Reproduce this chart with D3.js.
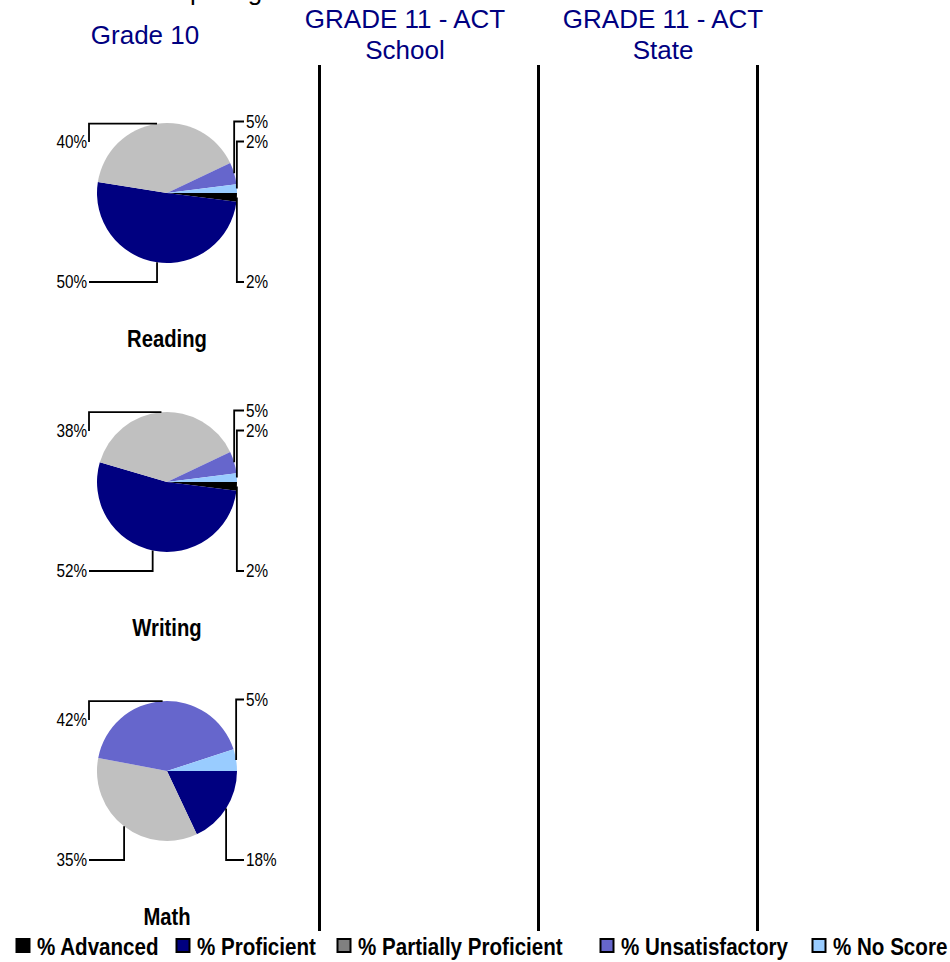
<!DOCTYPE html>
<html>
<head>
<meta charset="utf-8">
<script src="https://cdn.jsdelivr.net/npm/d3@7/dist/d3.min.js"></script>
<style>
  html, body { margin: 0; padding: 0; background: #ffffff; }
  svg { display: block; }
</style>
</head>
<body>
<svg id="chart" width="950" height="962"></svg>
<script>
// ---------- data ----------
const subjects = ["Reading", "Writing", "Math"];
const levels = ["% Advanced", "% Proficient", "% Partially Proficient", "% Unsatisfactory", "% No Score"];
const readingValues = [2, 50, 40, 5, 2];
const writingValues = [2, 52, 38, 5, 2];
const mathValues = [0, 18, 35, 42, 5];
const pieColors = ["#000000", "#000080", "#C0C0C0", "#6666CC", "#99CCFF"];
const legendColors = ["#000000", "#000080", "#808080", "#6666CC", "#99CCFF"];
const columnHeaders = [["Grade 10"], ["GRADE 11 - ACT", "School"], ["GRADE 11 - ACT", "State"]];
const titleText = "Comparing";

// ---------- layout ----------
const svg = d3.select("#chart");
const sans = "'Liberation Sans', Arial, Helvetica, sans-serif";

// condensed text: Liberation Sans squeezed horizontally (Arial-Narrow like)
function narrowText(parent, x, y, str, size, bold, anchor, sx) {
  const g = parent.append("g").attr("transform", `translate(${x},${y}) scale(${sx},1)`);
  return g.append("text")
    .attr("x", 0).attr("y", 0)
    .attr("text-anchor", anchor)
    .attr("font-family", sans)
    .attr("font-size", size)
    .attr("font-weight", bold ? "bold" : "normal")
    .attr("fill", "#000")
    .text(str);
}

const seriesBySubject = { Reading: readingValues, Writing: writingValues, Math: mathValues };
const R = 70;
const cx = 167;
const rowY = d3.scalePoint().domain(subjects).range([193, 771]);
const headerX = d3.scaleOrdinal().domain([0, 1, 2]).range([145, 405, 663]);
const dividerX = [319.5, 538.5, 757.5];

// partially visible title at the very top (cut off in the reference too)
svg.append("text")
  .attr("x", 135).attr("y", 0)
  .attr("font-family", sans).attr("font-size", 26)
  .attr("fill", "#000")
  .text(titleText);

// column headers
columnHeaders.forEach((lines, i) => {
  const baseY = lines.length === 1 ? 44 : 27.5;
  lines.forEach((t, j) => {
    svg.append("text")
      .attr("x", headerX(i)).attr("y", baseY + j * 31)
      .attr("text-anchor", "middle")
      .attr("font-family", sans).attr("font-size", 26)
      .attr("fill", "#000080")
      .text(t);
  });
});

// vertical dividers
svg.selectAll("line.divider").data(dividerX).join("line")
  .attr("class", "divider")
  .attr("x1", d => d).attr("x2", d => d)
  .attr("y1", 65).attr("y2", 931)
  .attr("stroke", "#000").attr("stroke-width", 3);

// pies
const pie = d3.pie().sort(null).value(d => d.v)
  .startAngle(Math.PI / 2).endAngle(Math.PI / 2 + 2 * Math.PI);
const arc = d3.arc().innerRadius(0).outerRadius(R);

subjects.forEach(sub => {
  const cy = rowY(sub);
  const data = seriesBySubject[sub].map((v, i) => ({ v, i }));
  const arcs = pie(data);
  const g = svg.append("g").attr("transform", `translate(${cx},${cy})`);
  g.selectAll("path").data(arcs.filter(a => a.data.v > 0)).join("path")
    .attr("d", arc)
    .attr("fill", d => pieColors[d.data.i]);

  // label layout
  const items = arcs.filter(a => a.data.v > 0).map(a => {
    const m = (a.startAngle + a.endAngle) / 2;
    const ax = R * Math.sin(m), ay = -R * Math.cos(m);
    return { a, ax, ay, right: ax > 0, top: ay < 0 };
  });
  const assign = (list, start, step) => list.forEach((d, k) => d.ly = start + step * k);
  assign(items.filter(d => d.right && d.top).sort((p, q) => p.ay - q.ay), -71.5, 20);
  assign(items.filter(d => !d.right && d.top).sort((p, q) => q.ay - p.ay), -51, -20);
  assign(items.filter(d => d.right && !d.top).sort((p, q) => p.ay - q.ay), 89, 20);
  assign(items.filter(d => !d.right && !d.top).sort((p, q) => p.ay - q.ay), 89, 20);

  items.forEach(d => {
    const lx = d.right ? 77 : -78;
    let ex = d.ax, ey = d.ly;
    if (Math.hypot(ex, ey) < R) { ex = lx; ey = d.ay; }
    const pts = [[d.ax, d.ay], [ex, ey], [lx, d.ly]];
    g.append("path")
      .attr("d", d3.line()(pts))
      .attr("fill", "none").attr("stroke", "#000").attr("stroke-width", 1.8);
    narrowText(g, d.right ? lx + 2 : lx - 2, d.ly + 6, d.a.data.v + "%", 18, false,
      d.right ? "start" : "end", 0.85);
  });

  narrowText(svg, cx, cy + 154, sub, 23, true, "middle", 0.88);
});

// legend
const legendX = [16, 176, 337, 600, 812];
levels.forEach((name, i) => {
  const lg = svg.append("g").attr("transform", `translate(${legendX[i]},939)`);
  lg.append("rect")
    .attr("x", 0.5).attr("y", 0).attr("width", 13).attr("height", 13)
    .attr("fill", legendColors[i])
    .attr("stroke", "#000").attr("stroke-width", 2);
  narrowText(lg, 21, 15.5, name, 23, true, "start", 0.895);
});
</script>
</body>
</html>
